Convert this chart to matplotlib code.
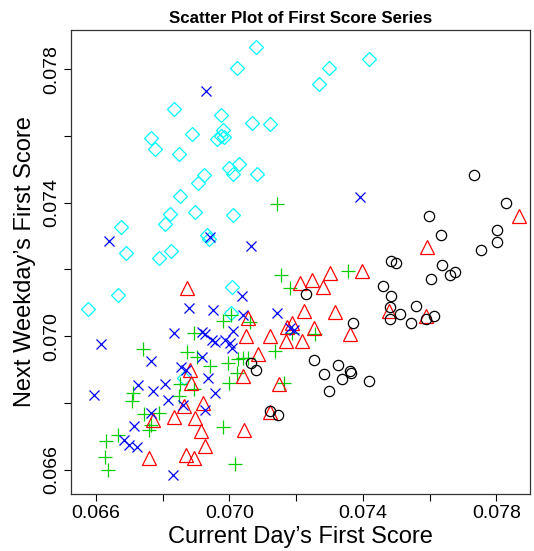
import numpy as np
import matplotlib.pyplot as plt

plt.rcParams['font.family'] = ['Liberation Sans', 'DejaVu Sans']

# group 1 - black circles
x_black = [0.07734, 0.07829, 0.07597, 0.07802, 0.07634, 0.07802, 0.07754, 0.07485,
           0.07500, 0.07636, 0.07677, 0.07661, 0.07603, 0.07460, 0.07230, 0.07483,
           0.07560, 0.07480, 0.07512, 0.07614, 0.07480, 0.07589, 0.07369, 0.07544,
           0.07252, 0.07324, 0.07360, 0.07363, 0.07283, 0.07336, 0.07418, 0.07298,
           0.07064, 0.07080, 0.07122, 0.07144]
y_black = [0.07482, 0.07398, 0.07361, 0.07318, 0.07304, 0.07281, 0.07257, 0.07226,
           0.07219, 0.07213, 0.07193, 0.07182, 0.07172, 0.07150, 0.07125, 0.07120,
           0.07090, 0.07086, 0.07067, 0.07061, 0.07050, 0.07050, 0.07040, 0.07040,
           0.06927, 0.06914, 0.06894, 0.06890, 0.06885, 0.06872, 0.06864, 0.06835,
           0.06918, 0.06899, 0.06775, 0.06763]

# group 2 - red triangles
x_red = [0.07867, 0.07591, 0.07396, 0.07302, 0.07247, 0.07210, 0.07279, 0.06873,
         0.07223, 0.07316, 0.07479, 0.07589, 0.07057, 0.07188, 0.07172, 0.07254,
         0.07360, 0.07049, 0.07121, 0.07170, 0.07217, 0.07086, 0.07040, 0.07149,
         0.06883, 0.06885, 0.06864, 0.06920, 0.06835, 0.06896, 0.06771, 0.06914,
         0.07045, 0.07122, 0.06926, 0.06870, 0.06893, 0.06760]
y_red = [0.07360, 0.07268, 0.07196, 0.07188, 0.07168, 0.07160, 0.07148, 0.07143,
         0.07075, 0.07072, 0.07075, 0.07061, 0.07053, 0.07040, 0.07026, 0.07024,
         0.07006, 0.07001, 0.07000, 0.06986, 0.06986, 0.06946, 0.06880, 0.06856,
         0.06898, 0.06860, 0.06790, 0.06799, 0.06757, 0.06753, 0.06749, 0.06716,
         0.06717, 0.06773, 0.06671, 0.06644, 0.06636, 0.06635]

# group 3 - green plus
x_green = [0.07143, 0.07154, 0.07354, 0.07181, 0.07005, 0.06981, 0.07062, 0.06893,
           0.07188, 0.07257, 0.06742, 0.07137, 0.06873, 0.06902, 0.07040, 0.07055,
           0.07027, 0.06997, 0.06942, 0.07022, 0.06998, 0.07164, 0.06852, 0.06894,
           0.06850, 0.06711, 0.06707, 0.06744, 0.06789, 0.06765, 0.06758, 0.06982,
           0.06665, 0.06631, 0.06627, 0.06637, 0.07017]
y_green = [0.07395, 0.07183, 0.07196, 0.07144, 0.07064, 0.07046, 0.07043, 0.07009,
           0.07008, 0.07005, 0.06961, 0.06954, 0.06953, 0.06936, 0.06933, 0.06933,
           0.06930, 0.06920, 0.06909, 0.06888, 0.06860, 0.06860, 0.06856, 0.06841,
           0.06821, 0.06829, 0.06804, 0.06766, 0.06768, 0.06733, 0.06718, 0.06728,
           0.06703, 0.06687, 0.06637, 0.06598, 0.06617]

# group 4 - blue crosses
x_blue = [0.06929, 0.07392, 0.06941, 0.06638, 0.07064, 0.07038, 0.06880, 0.06952,
          0.07142, 0.07042, 0.07182, 0.07192, 0.06835, 0.06917, 0.06927, 0.07010,
          0.06947, 0.06957, 0.06987, 0.07002, 0.07007, 0.06616, 0.06919, 0.06766,
          0.06855, 0.06870, 0.06935, 0.06957, 0.06807, 0.06727, 0.06770, 0.06815,
          0.06594, 0.06860, 0.06928, 0.06766, 0.06715, 0.06683, 0.06700, 0.06724,
          0.06832]
y_blue = [0.07735, 0.07418, 0.07298, 0.07285, 0.07269, 0.07121, 0.07084, 0.07079,
          0.07068, 0.07063, 0.07023, 0.07018, 0.07010, 0.07013, 0.07006, 0.07015,
          0.06988, 0.06983, 0.06988, 0.06979, 0.06964, 0.06976, 0.06938, 0.06926,
          0.06908, 0.06899, 0.06873, 0.06828, 0.06856, 0.06853, 0.06835, 0.06808,
          0.06824, 0.06792, 0.06778, 0.06768, 0.06729, 0.06690, 0.06675, 0.06667,
          0.06583]

# group 5 - cyan diamonds
x_cyan = [0.07079, 0.07417, 0.07022, 0.07297, 0.07269, 0.06834, 0.06975, 0.07067,
          0.07121, 0.06982, 0.06889, 0.06976, 0.06984, 0.06962, 0.06765, 0.06777,
          0.06850, 0.07029, 0.06998, 0.07012, 0.07081, 0.06924, 0.06907, 0.06853,
          0.06896, 0.06823, 0.07012, 0.06808, 0.06675, 0.06933, 0.06938, 0.06825,
          0.06689, 0.06790, 0.07009, 0.06665, 0.06575, 0.07005, 0.06864]
y_cyan = [0.07868, 0.07831, 0.07805, 0.07803, 0.07757, 0.07680, 0.07662, 0.07638,
          0.07636, 0.07618, 0.07605, 0.07601, 0.07596, 0.07592, 0.07594, 0.07562,
          0.07545, 0.07516, 0.07504, 0.07485, 0.07485, 0.07484, 0.07460, 0.07421,
          0.07372, 0.07366, 0.07362, 0.07337, 0.07326, 0.07304, 0.07291, 0.07255,
          0.07249, 0.07233, 0.07148, 0.07124, 0.07082, 0.07070, 0.06874]

ticks = [0.066, 0.068, 0.070, 0.072, 0.074, 0.076, 0.078]
tick_labels = ['0.066', '', '0.070', '', '0.074', '', '0.078']

fig = plt.figure(figsize=(5.34, 5.51), dpi=100)
ax = fig.add_axes([0.133, 0.1034, 0.8596, 0.8422])

mew = 0.9
ax.plot(x_cyan, y_cyan, 'D', ms=7.6, mfc='none', mec='#00FFFF', mew=mew)
ax.plot(x_green, y_green, '+', ms=10, color='#00CD00', mew=mew)
ax.plot(x_red, y_red, '^', ms=9.8, mfc='none', mec='#FF0000', mew=mew)
ax.plot(x_blue, y_blue, 'x', ms=7.5, color='#0000FF', mew=mew)
ax.plot(x_black, y_black, 'o', ms=7.4, mfc='none', mec='black', mew=mew)

ax.set_xlim(0.06525, 0.07901)
ax.set_ylim(0.065265, 0.07918)
ax.set_xticks(ticks)
ax.set_xticklabels(tick_labels)
ax.set_yticks(ticks)
ax.set_yticklabels(tick_labels, rotation=90, va='center')
ax.tick_params(direction='out', length=5, width=0.8, labelsize=14, pad=3)

for s in ax.spines.values():
    s.set_linewidth(0.9)
    s.set_color('#333333')

ax.set_xlabel('Current Day\u2019s First Score', fontsize=17, labelpad=3)
ax.set_ylabel('Next Weekday\u2019s First Score', fontsize=17, labelpad=5)
ax.set_title('Scatter Plot of First Score Series', fontsize=12.2,
             fontweight='bold', pad=5)

fig.savefig('out.png', dpi=100)
